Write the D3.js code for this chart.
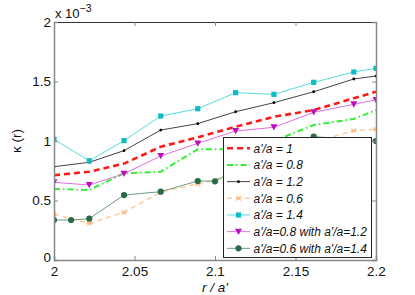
<!DOCTYPE html>
<html><head><meta charset="utf-8">
<script src="https://cdn.jsdelivr.net/npm/d3@7"></script>
<style>
html,body{margin:0;padding:0;background:#fff;}
svg{display:block;font-family:"Liberation Sans",Arial,sans-serif;}
</style></head>
<body>
<svg id="c" width="415" height="295"></svg>
<script>
// ---- data (kappa values in units of 1e-3) ----
const xGrid = [2, 2.0219, 2.0435, 2.0663, 2.0893, 2.1128, 2.1366, 2.1613, 2.1862, 2.2];
const xDarkGreen = [2, 2.0106, 2.0219, 2.0435, 2.0663, 2.0893, 2.1, 2.1128, 2.1366, 2.1613, 2.2];

const kappa_1    = [0.712, 0.742, 0.810, 0.952, 1.031, 1.120, 1.204, 1.260, 1.359, 1.414];
const kappa_08   = [0.597, 0.588, 0.729, 0.742, 0.930, 0.930, 1.000, 1.134, 1.185, 1.260];
const kappa_12   = [0.784, 0.821, 0.919, 1.092, 1.146, 1.246, 1.322, 1.414, 1.521, 1.546];
const kappa_06   = [0.384, 0.308, 0.401, 0.571, 0.639, 0.720, 0.850, 0.990, 1.087, 1.098];
const kappa_14   = [1.014, 0.834, 1.003, 1.210, 1.271, 1.406, 1.392, 1.493, 1.580, 1.611];
const kappa_08w12 = [0.653, 0.630, 0.725, 0.874, 0.980, 1.084, 1.115, 1.241, 1.308, 1.345];
const kappa_06w14 = [0.336, 0.336, 0.347, 0.546, 0.574, 0.664, 0.661, 0.760, 0.900, 1.036, 1.000];

const legendLabels = ["a'/a = 1", "a'/a = 0.8", "a'/a = 1.2", "a'/a = 0.6", "a'/a = 1.4",
                      "a'/a=0.8 with a'/a=1.2", "a'/a=0.6 with a'/a=1.4"];
const xTicks = [2, 2.05, 2.1, 2.15, 2.2];
const xTickLabels = ["2", "2.05", "2.1", "2.15", "2.2"];
const yTicks = [0, 0.5, 1, 1.5, 2];
const yTickLabels = ["0", "0.5", "1", "1.5", "2"];

// ---- styles ----
const series = [
  {x: xGrid, y: kappa_1, line: "#ff1a1a", w: 2.6, dash: "6,4", marker: null},
  {x: xGrid, y: kappa_08, line: "#33ee33", w: 2, dash: "6,3,1.5,3", marker: null},
  {x: xGrid, y: kappa_12, line: "#444", w: 1, dash: null, marker: "dot", mc: "#000"},
  {x: xGrid, y: kappa_06, line: "#ffcc99", w: 1.5, dash: "5,4", marker: "x", mc: "#ffbb88"},
  {x: xGrid, y: kappa_14, line: "#55dddd", w: 1, dash: null, marker: "square", mc: "#11bbc4"},
  {x: xGrid, y: kappa_08w12, line: "#e070e0", w: 1, dash: null, marker: "tri", mc: "#bb11bb"},
  {x: xDarkGreen, y: kappa_06w14, line: "#6a9a86", w: 1, dash: null, marker: "circle", mc: "#2a6a48"}
];

const L = 54, R = 376, T = 22, B = 260;
const svg = d3.select("#c");
const xs = d3.scaleLinear().domain([2, 2.2]).range([L, R]);
const ys = d3.scaleLinear().domain([0, 2]).range([B, T]);

svg.append("defs").append("clipPath").attr("id","clip")
  .append("rect").attr("x",L).attr("y",T).attr("width",R-L).attr("height",B-T);

function drawMarker(g, type, cx, cy, col){
  if(type==="dot") g.append("circle").attr("cx",cx).attr("cy",cy).attr("r",1.4).attr("fill",col);
  else if(type==="circle") g.append("circle").attr("cx",cx).attr("cy",cy).attr("r",3.1).attr("fill",col);
  else if(type==="square") g.append("rect").attr("x",cx-2.6).attr("y",cy-2.6).attr("width",5.2).attr("height",5.2).attr("fill",col);
  else if(type==="tri") g.append("path").attr("d",`M${cx-3.5},${cy-3}L${cx+3.5},${cy-3}L${cx},${cy+3.3}Z`).attr("fill",col);
  else if(type==="x") g.append("path").attr("d",`M${cx-2.3},${cy-2.3}L${cx+2.3},${cy+2.3}M${cx-2.3},${cy+2.3}L${cx+2.3},${cy-2.3}M${cx-2.8},${cy}L${cx+2.8},${cy}`).attr("stroke",col).attr("stroke-width",1.1);
}

const plot = svg.append("g").attr("clip-path","url(#clip)");
const lineGen = d3.line();
series.forEach(s => {
  const pts = s.x.map((xv,i)=>[xs(xv), ys(s.y[i])]);
  const p = plot.append("path").attr("d", lineGen(pts)).attr("fill","none")
    .attr("stroke", s.line).attr("stroke-width", s.w);
  if(s.dash) p.attr("stroke-dasharray", s.dash);
  if(s.marker) pts.forEach(q => drawMarker(plot, s.marker, q[0], q[1], s.mc));
});

// ---- axes ----
const axB = svg.append("g").attr("transform",`translate(0,${B})`)
  .call(d3.axisBottom(xs).tickValues(xTicks).tickSize(-4).tickFormat((d,i)=>xTickLabels[i]));
const axT = svg.append("g").attr("transform",`translate(0,${T})`)
  .call(d3.axisTop(xs).tickValues(xTicks).tickSize(-4).tickFormat(""));
const axL = svg.append("g").attr("transform",`translate(${L},0)`)
  .call(d3.axisLeft(ys).tickValues(yTicks).tickSize(-4).tickFormat((d,i)=>yTickLabels[i]));
const axR = svg.append("g").attr("transform",`translate(${R},0)`)
  .call(d3.axisRight(ys).tickValues(yTicks).tickSize(-4).tickFormat(""));
[axB,axT,axL,axR].forEach(a=>{
  a.select(".domain").attr("stroke","#888").attr("stroke-width",1.5);
  a.selectAll(".tick line").attr("stroke","#888");
  a.selectAll("text").attr("fill","#111").style("font-size","13.5px").style("font-family","'Liberation Sans',Arial,sans-serif");
});
axT.select(".domain").attr("stroke","#333").attr("stroke-width",1);
axB.selectAll("text").attr("dy","0.71em").attr("y",6);
axL.selectAll("text").attr("x",-3);
axL.selectAll(".tick").filter(d=>d===0).select("text").attr("dy","0.1em");

// exponent label
const ex = svg.append("text").attr("x",55).attr("y",18).attr("font-size",13).attr("fill","#111");
ex.append("tspan").text("x 10");
ex.append("tspan").attr("dy",-6).attr("font-size",10.5).text("−3");

// axis titles
svg.append("text").attr("x",215).attr("y",292).attr("text-anchor","middle")
  .attr("font-size",13.5).attr("font-style","italic").attr("fill","#111").text("r / a'");
svg.append("text").attr("transform","translate(21,141) rotate(-90)").attr("text-anchor","middle")
  .attr("font-size",13.5).attr("fill","#111").text("κ (r)");

// ---- legend ----
const lg = svg.append("g");
lg.append("rect").attr("x",223.5).attr("y",137.5).attr("width",148).attr("height",120)
  .attr("fill","#fff").attr("stroke","#222").attr("stroke-width",1);
series.forEach((s,i)=>{
  const yy = 148.3 + i*16.67;
  const l = lg.append("line").attr("x1",227).attr("x2",250).attr("y1",yy).attr("y2",yy)
    .attr("stroke",s.line).attr("stroke-width",s.w);
  if(s.dash) l.attr("stroke-dasharray",s.dash);
  if(s.marker) drawMarker(lg, s.marker, 238.5, yy, s.mc);
  lg.append("text").attr("x",253.5).attr("y",yy+4.3).attr("font-size",12).attr("font-style","italic")
    .attr("fill","#111").text(legendLabels[i]);
});
</script>
</body></html>
